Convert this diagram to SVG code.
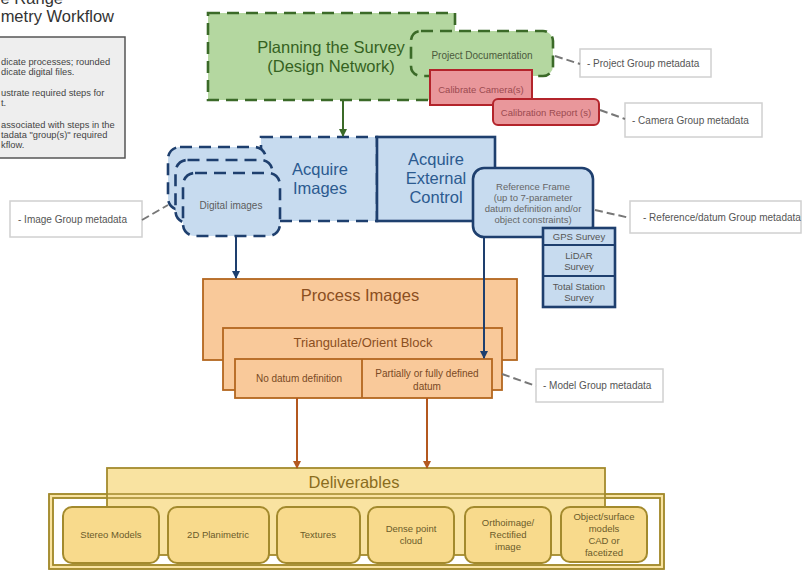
<svg xmlns="http://www.w3.org/2000/svg" width="803" height="570" viewBox="0 0 803 570">
<defs>
<style>
text{font-family:"Liberation Sans",Arial,sans-serif;}
.t{fill:#333;}
.leg{font-size:9.3px;fill:#444;}
.grn{fill:#b4d7a0;stroke:#3b6a28;stroke-width:2.6;stroke-dasharray:12 7;}
.red{fill:#e9979b;stroke:#b3242b;stroke-width:2;}
.blu{fill:#c7dbef;stroke:#1e3f6e;stroke-width:2.6;}
.bld{fill:#c7dbef;stroke:#1e3f6e;stroke-width:2.6;stroke-dasharray:12 7;}
.org{fill:#f9c99a;stroke:#b3661f;stroke-width:1.8;}
.yel{fill:#f9e3a1;stroke:#a38a2d;stroke-width:1.8;}
.ybx{fill:#f8da8c;stroke:#a38a2d;stroke-width:2;}
.meta{fill:#fff;stroke:#d0d0d0;stroke-width:1.5;}
.mt{font-size:10px;fill:#555;}
.dash{stroke:#777;stroke-width:2;stroke-dasharray:8 4;fill:none;}
.big{font-size:16.5px;text-anchor:middle;}
.sm{font-size:9.5px;text-anchor:middle;}
</style>
<marker id="ag" markerWidth="8" markerHeight="8" refX="7" refY="4" orient="auto" markerUnits="userSpaceOnUse"><path d="M0,0 L8,4 L0,8 z" fill="#3b6a28"/></marker>
<marker id="ab" markerWidth="8" markerHeight="8" refX="7" refY="4" orient="auto" markerUnits="userSpaceOnUse"><path d="M0,0 L8,4 L0,8 z" fill="#1e3f6e"/></marker>
<marker id="ao" markerWidth="8" markerHeight="8" refX="7" refY="4" orient="auto" markerUnits="userSpaceOnUse"><path d="M0,0 L8,4 L0,8 z" fill="#b3581f"/></marker>
</defs>
<rect width="803" height="570" fill="#fff"/>

<g id="title">
<text x="63" y="4" text-anchor="end" font-size="16.5" class="t">e Range</text>
<text x="114" y="22" text-anchor="end" font-size="16.5" class="t">metry Workflow</text>
</g>

<g id="legend">
<rect x="-5" y="37" width="130" height="121" fill="#eeeeee" stroke="#555" stroke-width="1.5"/>
<text class="leg" x="1" y="65">dicate processes; rounded</text>
<text class="leg" x="1" y="75">dicate digital files.</text>
<text class="leg" x="1" y="96">ustrate required steps for</text>
<text class="leg" x="1" y="106">t.</text>
<text class="leg" x="1" y="128">associated with steps in the</text>
<text class="leg" x="1" y="138">tadata "group(s)" required</text>
<text class="leg" x="1" y="148">kflow.</text>
</g>

<g id="planning">
<rect class="grn" x="208" y="13" width="247" height="87"/>
<text class="big" x="331" y="53" fill="#35621f">Planning the Survey</text>
<text class="big" x="331" y="72" fill="#35621f">(Design Network)</text>
</g>
<g id="project-doc">
<rect class="grn" x="411" y="31" width="142" height="45" rx="10"/>
<text x="482" y="59" font-size="10" text-anchor="middle" fill="#4b5a3c">Project Documentation</text>
</g>
<g id="calibrate">
<rect class="red" x="430" y="70" width="102" height="35"/>
<text x="481" y="93" font-size="9.5" text-anchor="middle" fill="#9b4a50">Calibrate Camera(s)</text>
</g>
<g id="calib-report">
<rect class="red" x="493" y="99" width="106" height="26" rx="5"/>
<text x="546" y="116" font-size="9.5" text-anchor="middle" fill="#9b4a50">Calibration Report (s)</text>
</g>

<g id="acquire-images">
<rect class="bld" x="261" y="137" width="116" height="84"/>
<text class="big" x="320" y="175" fill="#2b5a8f">Acquire</text>
<text class="big" x="320" y="194" fill="#2b5a8f">Images</text>
</g>
<g id="acquire-control">
<rect class="blu" x="377" y="137" width="118" height="84"/>
<text class="big" x="436" y="165" fill="#2b5a8f">Acquire</text>
<text class="big" x="436" y="184" fill="#2b5a8f">External</text>
<text class="big" x="436" y="203" fill="#2b5a8f">Control</text>
</g>
<g id="digital-images">
<rect class="bld" x="168" y="147" width="98" height="63" rx="12"/>
<rect class="bld" x="175.5" y="160" width="97" height="63" rx="12"/>
<rect class="bld" x="183" y="173" width="97" height="63" rx="12"/>
<text x="231" y="209" font-size="10" text-anchor="middle" fill="#5d5d5d">Digital images</text>
</g>
<g id="reference-frame">
<rect class="blu" x="473" y="168" width="120" height="69" rx="11"/>
<text class="sm" x="533" y="190" fill="#666">Reference Frame</text>
<text class="sm" x="533" y="201" fill="#666">(up to 7-parameter</text>
<text class="sm" x="533" y="212" fill="#666">datum definition and/or</text>
<text class="sm" x="533" y="223" fill="#666">object constraints)</text>
</g>
<g id="surveys">
<rect class="blu" x="543" y="228" width="72" height="79" stroke-width="2"/>
<line x1="543" y1="245" x2="615" y2="245" stroke="#1e3f6e" stroke-width="2"/>
<line x1="543" y1="276" x2="615" y2="276" stroke="#1e3f6e" stroke-width="2"/>
<text class="sm" x="579" y="240" fill="#555">GPS Survey</text>
<text class="sm" x="579" y="259" fill="#555">LiDAR</text>
<text class="sm" x="579" y="270" fill="#555">Survey</text>
<text class="sm" x="579" y="290" fill="#555">Total Station</text>
<text class="sm" x="579" y="301" fill="#555">Survey</text>
</g>

<g id="process-images">
<rect class="org" x="203" y="279" width="314" height="81"/>
<text class="big" x="360" y="301" fill="#8b4f1f">Process Images</text>
</g>
<g id="triangulate">
<rect class="org" x="223" y="328" width="279" height="62"/>
<text x="363" y="347" font-size="13" text-anchor="middle" fill="#8b4f1f">Triangulate/Orient Block</text>
</g>
<g id="datum-table">
<rect class="org" x="235" y="359" width="257" height="39"/>
<line x1="362" y1="359" x2="362" y2="398" stroke="#b3661f" stroke-width="1.8"/>
<text x="299" y="382" font-size="10" text-anchor="middle" fill="#7a4a25">No datum definition</text>
<text x="427" y="377" font-size="10" text-anchor="middle" fill="#7a4a25">Partially or fully defined</text>
<text x="427" y="390" font-size="10" text-anchor="middle" fill="#7a4a25">datum</text>
</g>

<g id="deliverables">
<rect x="49" y="494" width="615" height="75" fill="#f9e3a1" stroke="#a38a2d" stroke-width="1.5"/>
<rect x="53" y="498" width="607" height="67" fill="#fff" stroke="#a38a2d" stroke-width="1.5"/>
<rect class="yel" x="107" y="468" width="498" height="87"/>
<rect x="49" y="494" width="615" height="75" fill="none" stroke="#a38a2d" stroke-width="1.5"/>
<rect x="53" y="498" width="607" height="67" fill="none" stroke="#a38a2d" stroke-width="1.5"/>
<text class="big" x="354" y="488" fill="#8a6d1e">Deliverables</text>
</g>
<g id="stereo-models">
<rect class="ybx" x="63" y="507" width="96" height="56" rx="9"/>
<text class="sm" x="111" y="538" fill="#6b5a2a">Stereo Models</text>
</g>
<g id="planimetric">
<rect class="ybx" x="168" y="507" width="101" height="56" rx="9"/>
<text class="sm" x="218" y="538" fill="#6b5a2a">2D Planimetric</text>
</g>
<g id="textures">
<rect class="ybx" x="277" y="507" width="83" height="56" rx="9"/>
<text class="sm" x="318" y="538" fill="#6b5a2a">Textures</text>
</g>
<g id="dense-cloud">
<rect class="ybx" x="368" y="507" width="86" height="56" rx="9"/>
<text class="sm" x="411" y="532" fill="#6b5a2a">Dense point</text>
<text class="sm" x="411" y="544" fill="#6b5a2a">cloud</text>
</g>
<g id="orthoimage">
<rect class="ybx" x="465" y="507" width="86" height="56" rx="9"/>
<text class="sm" x="508" y="526" fill="#6b5a2a">Orthoimage/</text>
<text class="sm" x="508" y="538" fill="#6b5a2a">Rectified</text>
<text class="sm" x="508" y="550" fill="#6b5a2a">image</text>
</g>
<g id="surface-models">
<rect class="ybx" x="561" y="507" width="86" height="55" rx="9"/>
<text class="sm" x="604" y="520" fill="#6b5a2a">Object/surface</text>
<text class="sm" x="604" y="532" fill="#6b5a2a">models</text>
<text class="sm" x="604" y="544" fill="#6b5a2a">CAD or</text>
<text class="sm" x="604" y="556" fill="#6b5a2a">facetized</text>
</g>

<g id="meta-project"><rect class="meta" x="580" y="49" width="131" height="28"/><text class="mt" x="587" y="67">- Project Group metadata</text></g>
<g id="meta-camera"><rect class="meta" x="625" y="103" width="137" height="34"/><text class="mt" x="632" y="124">- Camera Group metadata</text></g>
<g id="meta-image"><rect class="meta" x="10" y="201" width="132" height="36"/><text class="mt" x="18" y="223">- Image Group metadata</text></g>
<g id="meta-reference"><rect class="meta" x="630" y="201" width="171" height="32"/><text class="mt" x="643" y="221">- Reference/datum Group metadata</text></g>
<g id="meta-model"><rect class="meta" x="536" y="369" width="127" height="33"/><text class="mt" x="543" y="389">- Model Group metadata</text></g>

<g id="connectors">
<line x1="343" y1="100" x2="343" y2="136" stroke="#3b6a28" stroke-width="2" marker-end="url(#ag)"/>
<line x1="236" y1="237" x2="236" y2="278" stroke="#1e3f6e" stroke-width="2" marker-end="url(#ab)"/>
<line x1="484" y1="237" x2="484" y2="358" stroke="#1e3f6e" stroke-width="2" marker-end="url(#ab)"/>
<line x1="297" y1="398" x2="297" y2="468" stroke="#b3581f" stroke-width="2" marker-end="url(#ao)"/>
<line x1="427" y1="398" x2="427" y2="468" stroke="#b3581f" stroke-width="2" marker-end="url(#ao)"/>
<line class="dash" x1="555" y1="56" x2="580" y2="64"/>
<line class="dash" x1="600" y1="110" x2="625" y2="119"/>
<line class="dash" x1="142" y1="220" x2="168" y2="205"/>
<line class="dash" x1="595" y1="210" x2="630" y2="218"/>
<line class="dash" x1="502" y1="374" x2="536" y2="386"/>
</g>
</svg>
